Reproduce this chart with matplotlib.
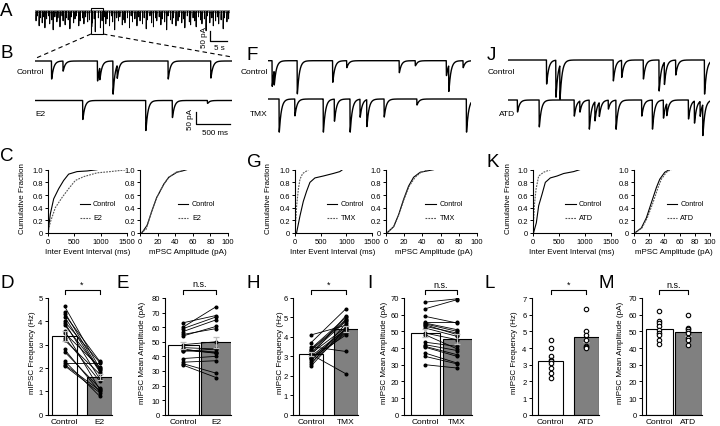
import numpy as np
import matplotlib
matplotlib.use('Agg')
import matplotlib.pyplot as plt

plt.rcParams['font.family'] = ['Liberation Sans', 'DejaVu Sans']

# ---------------- data ----------------
# Panel A: long recording, event times (s) and amplitudes (pA)
A_times = [0.3, 0.7, 1.2, 1.5, 2.1, 2.6, 2.9, 3.4, 4.0, 4.3, 4.9, 5.3, 5.8, 6.4, 6.7, 7.3,
           7.9, 8.2, 8.8, 9.1, 9.7, 10.2, 10.6, 11.3, 11.7, 12.1, 12.8, 13.2, 13.9, 14.3,
           14.8, 15.4, 15.9, 16.6, 16.8, 17.3, 17.6, 18.5, 19.1, 19.6, 20.2, 20.7, 21.1,
           21.8, 22.4, 22.7, 23.3, 23.9, 24.4, 24.8, 25.5, 26.0, 26.3, 27.0, 27.6, 28.1,
           28.5, 29.2, 29.8, 30.3, 30.7, 31.4, 31.9, 32.5, 32.9, 33.6, 34.1, 34.6, 35.2,
           35.6, 36.3, 36.8, 37.2, 37.9, 38.5, 38.9, 39.6, 40.1, 40.5, 41.2, 41.8, 42.2,
           42.9, 43.4, 43.8, 44.5, 45.1, 45.5, 46.2, 46.7, 47.1, 47.8, 48.4, 48.8, 49.5,
           50.0, 50.4, 51.1, 51.7, 52.1, 52.8, 53.3, 53.7, 54.4, 55.0, 55.4, 56.1, 56.6]
A_amps = [45, 20, 70, 30, 55, 25, 80, 35, 20, 60, 40, 90, 25, 50, 30, 75, 20, 45, 65, 30,
          40, 85, 25, 55, 35, 20, 70, 45, 30, 60, 25, 50, 40, 75, 55, 35, 100, 30, 80, 45,
          25, 60, 35, 70, 20, 50, 90, 30, 45, 25, 65, 40, 55, 30, 80, 20, 50, 35, 70, 25,
          45, 60, 30, 85, 40, 20, 55, 75, 30, 45, 25, 65, 35, 50, 90, 20, 40, 60, 30, 70,
          45, 25, 55, 35, 80, 20, 50, 65, 30, 45, 75, 25, 40, 60, 35, 95, 20, 55, 30, 70,
          45, 25, 60, 40, 85, 30, 50, 35]

# Example traces: event times (ms) and amplitudes (pA)
B_ctrl_t = [242, 411, 918, 952, 1146, 1208, 1958, 2586]
B_ctrl_a = [75, 42, 83, 50, 138, 54, 75, 71]
B_e2_t = [701, 1629, 2020, 2537]
B_e2_a = [79, 125, 71, 12]
F_ctrl_t = [59, 89, 428, 949, 1156, 1928, 2164, 2621, 2656, 2867]
F_ctrl_a = [107, 60, 138, 90, 29, 50, 21, 62, 108, 29]
F_tmx_t = [162, 393, 811, 974, 1205, 1352, 1451, 1706, 2188, 2916]
F_tmx_a = [138, 70, 138, 92, 138, 75, 112, 75, 25, 138]
J_ctrl_t = [565, 702, 761, 1546, 1669, 1988, 2219, 2297, 2464, 2887]
J_ctrl_a = [100, 154, 142, 87, 71, 79, 129, 92, 62, 142]
J_atd_t = [137, 457, 972, 1055, 1193, 1276, 1340, 1473, 1586, 1964, 2121, 2283, 2332,
           2651, 2739, 2823, 2862]
J_atd_a = [50, 112, 67, 46, 121, 79, 58, 37, 121, 67, 121, 75, 50, 79, 92, 62, 129]

# Cumulative distributions (x value, cumulative fraction)
C_iei_ctrl_x = [0, 44, 108, 203, 297, 392, 551, 741, 930]
C_iei_ctrl_f = [0, 0.30, 0.54, 0.70, 0.83, 0.93, 0.97, 0.98, 1.0]
C_iei_e2_x = [0, 44, 139, 266, 392, 519, 677, 930, 1184, 1500]
C_iei_e2_f = [0, 0.17, 0.40, 0.56, 0.70, 0.83, 0.89, 0.95, 0.97, 1.0]
C_amp_ctrl_x = [2, 8, 13.6, 19, 27, 32.6, 42, 48, 53]
C_amp_ctrl_f = [0, 0.12, 0.35, 0.56, 0.77, 0.88, 0.96, 0.98, 1.0]
C_amp_e2_x = [1, 7, 13, 19, 27, 33, 41, 47, 50]
C_amp_e2_f = [0, 0.06, 0.33, 0.56, 0.77, 0.88, 0.96, 0.98, 1.0]

G_iei_ctrl_x = [30, 97, 162, 226, 291, 388, 550, 744, 873, 925]
G_iei_ctrl_f = [0, 0.27, 0.50, 0.66, 0.80, 0.87, 0.90, 0.94, 0.97, 1.0]
G_iei_tmx_x = [0, 32, 65, 97, 149, 226, 259]
G_iei_tmx_f = [0, 0.43, 0.69, 0.85, 0.94, 0.98, 1.0]
G_amp_ctrl_x = [1, 8.4, 13.9, 19.3, 24.8, 30.3, 37.6, 44.9, 52.2]
G_amp_ctrl_f = [0, 0.10, 0.29, 0.53, 0.74, 0.88, 0.96, 0.98, 1.0]
G_amp_tmx_x = [1, 8.4, 14.2, 19.8, 25.5, 32.0, 38.5, 43.0, 46.7]
G_amp_tmx_f = [0, 0.10, 0.29, 0.53, 0.74, 0.88, 0.96, 0.98, 1.0]

K_iei_ctrl_x = [10, 64, 109, 173, 237, 333, 462, 590, 782, 897]
K_iei_ctrl_f = [0, 0.16, 0.43, 0.61, 0.80, 0.87, 0.90, 0.94, 0.97, 1.0]
K_iei_atd_x = [0, 26, 58, 109, 205, 333]
K_iei_atd_f = [0, 0.43, 0.69, 0.90, 0.96, 1.0]
K_amp_ctrl_x = [1, 9.7, 16.3, 22.9, 29.5, 33.9, 40.5, 45, 47]
K_amp_ctrl_f = [0, 0.08, 0.24, 0.48, 0.72, 0.85, 0.96, 0.99, 1.0]
K_amp_atd_x = [1, 10.5, 17.5, 25.0, 31.7, 36.0, 42.7, 47, 49]
K_amp_atd_f = [0, 0.08, 0.24, 0.48, 0.72, 0.85, 0.96, 0.99, 1.0]

# Paired / scatter summary data
D_ctrl = [4.65, 4.4, 4.3, 4.2, 4.0, 3.95, 3.85, 3.6, 3.5, 3.3, 3.2, 2.8, 2.7, 2.3, 2.2, 2.15, 2.1]
D_e2 = [2.0, 1.9, 2.3, 1.85, 2.25, 1.55, 1.95, 1.1, 2.05, 1.45, 1.75, 1.0, 1.15, 0.8, 2.2, 1.05, 0.95]
E_ctrl = [63, 60, 59, 57, 55, 54, 48, 46, 45, 44.5, 44, 43.5, 38.5, 36, 35, 34]
E_e2 = [68, 74, 67, 65, 59, 60.5, 50, 45, 42, 43, 42.5, 45, 40, 37, 28.5, 25.5]
H_ctrl = [4.1, 3.7, 3.5, 3.4, 3.35, 3.3, 3.2, 3.15, 3.1, 3.05, 3.0, 2.9, 2.8, 2.7, 2.6, 2.9, 2.5, 2.9]
H_tmx = [4.6, 5.45, 3.25, 5.0, 4.9, 4.85, 4.8, 4.5, 2.1, 5.1, 4.4, 4.3, 4.25, 4.2, 4.7, 4.1, 4.45, 4.4]
I_ctrl = [67.5, 63.5, 59, 55.5, 55, 54.5, 54, 53, 52, 49, 48, 43.5, 42, 41, 40.5, 37, 35, 30]
I_tmx = [69.5, 69, 55, 55.5, 51, 50, 48, 49, 47, 45, 39.5, 41, 38.5, 36, 35, 31, 30.5, 28]
L_ctrl = [4.5, 4.0, 3.5, 3.3, 3.2, 3.1, 2.8, 2.5, 2.2]
L_atd = [6.35, 5.0, 4.8, 4.5, 4.1, 4.05, 4.0]
M_ctrl = [62, 56, 55, 53, 51, 49, 48, 45, 42.5]
M_atd = [60, 52, 51.5, 50, 49, 46, 45, 42]

# ---------------- figure ----------------
W, H = 720, 427
fig = plt.figure(figsize=(7.2, 4.27), dpi=100)


def add_ax(x0, y0, x1, y1):
    return fig.add_axes([x0 / W, 1 - y1 / H, (x1 - x0) / W, (y1 - y0) / H])


ov = add_ax(0, 0, W, H)
ov.set_xlim(0, W)
ov.set_ylim(H, 0)
ov.axis('off')

LFS = 13.5
for lab, x, y in [('A', 0, 11), ('B', 0, 54), ('F', 247, 56), ('J', 487, 56),
                  ('C', 0, 157), ('G', 247, 163), ('K', 487, 163),
                  ('D', 0, 284), ('E', 117, 284), ('H', 247, 284), ('I', 367, 284),
                  ('L', 484, 284), ('M', 599, 284)]:
    ov.text(x, y, lab, fontsize=LFS, ha='left', va='center')


def psc(times, amps, dur, dt, taur, taud):
    t = np.arange(0, dur, dt)
    tp = taur * taud / (taud - taur) * np.log(taud / taur)
    pk = np.exp(-tp / taud) - np.exp(-tp / taur)
    y = np.zeros_like(t)
    for ti, a in zip(times, amps):
        s = t - ti
        m = s > 0
        y[m] -= a * (np.exp(-s[m] / taud) - np.exp(-s[m] / taur)) / pk
    return t, y


def trace_ax(x0, x1, ybase, dur, pa_px, top=6, bot=40):
    ax = add_ax(x0, ybase - top, x1, ybase + bot)
    ax.set_xlim(0, dur)
    ax.set_ylim(-bot * pa_px, top * pa_px)
    ax.axis('off')
    return ax


# Panel A
axA = trace_ax(35, 230, 13, 57000, 5.0, top=5, bot=30)
t, y = psc([v * 1000 for v in A_times], A_amps, 57000, 2.0, 1.0, 25.0)
axA.plot(t, y, color='black', lw=0.6)
axA.plot(t, y + 6, color='black', lw=0.4)
axA.add_patch(plt.Rectangle((16400, -110), 3500, 130, fill=False, lw=0.8, ec='black', clip_on=False))
axA.plot([51200, 51200, 56200], [-95, -145, -145], color='black', lw=0.9, clip_on=False)
ov.text(204, 37, '50 pA', rotation=90, fontsize=5.8, ha='center', va='center')
ov.text(219, 48, '5 s', fontsize=5.8, ha='center', va='center')
ov.plot([91, 34], [35, 60], color='black', lw=0.8, dashes=(4, 3))
ov.plot([103, 232], [35, 58], color='black', lw=0.8, dashes=(4, 3))

PA = 50.0 / 12.0
TFS = 6
traces = [
    (35, 232, 62, 2900, B_ctrl_t, B_ctrl_a),
    (35, 232, 101.5, 2900, B_e2_t, B_e2_a),
    (268, 471, 61.7, 2985, F_ctrl_t, F_ctrl_a),
    (268, 471, 100, 2985, F_tmx_t, F_tmx_a),
    (508, 710, 61, 2970, J_ctrl_t, J_ctrl_a),
    (508, 710, 101, 2970, J_atd_t, J_atd_a),
]
tr_axes = []
for x0, x1, yb, dur, tt, aa in traces:
    ax = trace_ax(x0, x1, yb, dur, PA)
    t, y = psc(tt, aa, dur, 0.5, 1.0, 30.0)
    ax.plot(t, y, color='black', lw=1.0)
    tr_axes.append(ax)

# scale bar B
axE2 = tr_axes[1]
axE2.plot([2370, 2370, 2870], [-48, -98, -98], color='black', lw=0.9, clip_on=False)
ov.text(191, 120, '50 pA', rotation=90, fontsize=5.8, ha='center', va='center')
ov.text(215, 134, '500 ms', fontsize=5.8, ha='center', va='center')

for txt, x, y in [('Control', 17, 72), ('E2', 35, 115), ('Control', 241, 72), ('TMX', 250, 115),
                  ('Control', 488, 72), ('ATD', 499, 114)]:
    ov.text(x, y, txt, fontsize=TFS, ha='left', va='center')

# ---------------- CDF panels ----------------
AFS = 5.8
TKS = 5.5


def style(ax):
    for s in ['top', 'right']:
        ax.spines[s].set_visible(False)
    for s in ['left', 'bottom']:
        ax.spines[s].set_linewidth(0.8)
    ax.tick_params(direction='out', length=2.5, width=0.7, pad=1.2, labelsize=TKS)


def cdf_ax(x0, x1, xmax, xticks, cx, cf, tx, tf, lab2, lx0, lx1, ltx):
    ax = add_ax(x0, 170.7, x1, 234)
    ax.plot(cx, cf, color='black', lw=0.8)
    ax.plot(tx, tf, color='#555555', lw=0.8, dashes=(1.6, 1.0))
    ax.set_xlim(0, xmax)
    ax.set_ylim(0, 1)
    ax.set_xticks(xticks)
    ax.set_yticks([0, 0.2, 0.4, 0.6, 0.8, 1.0])
    ax.set_yticklabels(['0', '0.2', '0.4', '0.6', '0.8', '1.0'])
    style(ax)
    ax.plot([lx0, lx1], [0.46, 0.46], color='black', lw=0.8, transform=ax.transAxes)
    ax.plot([lx0, lx1], [0.24, 0.24], color='#555555', lw=0.8, dashes=(1.6, 1.0), transform=ax.transAxes)
    ax.text(ltx, 0.46, 'Control', fontsize=5.2, va='center', ha='left', transform=ax.transAxes)
    ax.text(ltx, 0.24, lab2, fontsize=5.2, va='center', ha='left', transform=ax.transAxes)
    return ax


iei_ticks = [0, 500, 1000, 1500]
amp_ticks = [0, 20, 40, 60, 80, 100]
cdf_ax(48, 127, 1500, iei_ticks, C_iei_ctrl_x, C_iei_ctrl_f, C_iei_e2_x, C_iei_e2_f, 'E2', 0.41, 0.53, 0.57)
cdf_ax(140, 228, 100, amp_ticks, C_amp_ctrl_x, C_amp_ctrl_f, C_amp_e2_x, C_amp_e2_f, 'E2', 0.43, 0.55, 0.59)
cdf_ax(295, 372, 1500, iei_ticks, G_iei_ctrl_x, G_iei_ctrl_f, G_iei_tmx_x, G_iei_tmx_f, 'TMX', 0.41, 0.55, 0.59)
cdf_ax(386, 477, 100, amp_ticks, G_amp_ctrl_x, G_amp_ctrl_f, G_amp_tmx_x, G_amp_tmx_f, 'TMX', 0.43, 0.55, 0.59)
cdf_ax(533, 611, 1500, iei_ticks, K_iei_ctrl_x, K_iei_ctrl_f, K_iei_atd_x, K_iei_atd_f, 'ATD', 0.41, 0.55, 0.59)
cdf_ax(634, 710, 100, amp_ticks, K_amp_ctrl_x, K_amp_ctrl_f, K_amp_atd_x, K_amp_atd_f, 'ATD', 0.43, 0.57, 0.61)

for x in [23, 269, 508]:
    ov.text(x, 199, 'Cumulative Fraction', rotation=90, fontsize=AFS, ha='center', va='center')
for x, txt in [(88, 'Inter Event Interval (ms)'), (188, 'mPSC Amplitude (pA)'),
               (333, 'Inter Event Interval (ms)'), (434, 'mPSC Amplitude (pA)'),
               (572, 'Inter Event Interval (ms)'), (674, 'mPSC Amplitude (pA)')]:
    ov.text(x, 253, txt, fontsize=AFS, ha='center', va='center')


# ---------------- bar panels ----------------
def bar_panel(x0, c0, c1, w, ymax, ystep, ctrl, trt, lab2, sig, paired, ylabel, ylx):
    u = c1 - c0
    right = c1 + w / 2
    ax = add_ax(x0, 299, right, 415.7)
    xl = ((x0 - c0) / u, (right - c0) / u)
    bw = w / u
    means = [np.mean(ctrl), np.mean(trt)]
    sems = [np.std(ctrl, ddof=1) / np.sqrt(len(ctrl)), np.std(trt, ddof=1) / np.sqrt(len(trt))]
    ax.bar([0, 1], means, width=bw, color=['white', '#808080'], edgecolor='black', lw=0.8, zorder=1)
    if paired:
        for a, b in zip(ctrl, trt):
            ax.plot([0, 1], [a, b], color='black', lw=0.6, marker='o', ms=1.9, zorder=3)
        ax.errorbar([0, 1], means, yerr=sems, fmt='none', ecolor='#bdbdbd', elinewidth=0.9,
                    capsize=2, capthick=0.9, zorder=4)
    else:
        ax.errorbar([0, 1], means, yerr=sems, fmt='none', ecolor='#d0d0d0', elinewidth=0.9,
                    capsize=2.5, capthick=0.9, zorder=2)
        ax.plot([0] * len(ctrl), ctrl, ls='none', marker='o', ms=3.2, mfc='white', mec='black',
                mew=0.8, zorder=3)
        ax.plot([1] * len(trt), trt, ls='none', marker='o', ms=3.2, mfc='white', mec='black',
                mew=0.8, zorder=3)
    ax.set_xlim(*xl)
    ax.set_ylim(0, ymax)
    ax.set_yticks(np.arange(0, ymax + ystep / 2, ystep))
    ax.set_xticks([])
    style(ax)
    dpp = ymax / 116.7
    yb = ymax + 8 * dpp
    ax.plot([0, 0, 1, 1], [yb - 3.5 * dpp, yb, yb, yb - 3.5 * dpp], color='black', lw=0.8, clip_on=False)
    ax.text(0.5, yb + 1.5 * dpp, sig, fontsize=6.5, ha='center', va='bottom', clip_on=False)
    ov.text(c0, 423, 'Control', fontsize=6, ha='center', va='center')
    ov.text(c1, 423, lab2, fontsize=6, ha='center', va='center')
    ov.text(ylx, 353, ylabel, rotation=90, fontsize=AFS, ha='center', va='center')
    return ax


bar_panel(47.7, 64.5, 99.5, 25, 5, 1, D_ctrl, D_e2, 'E2', '*', True, 'mIPSC Frequency (Hz)', 33)
bar_panel(165, 183, 216, 31, 80, 10, E_ctrl, E_e2, 'E2', 'n.s.', True, 'mIPSC Mean Amplitude (pA)', 143)
bar_panel(293, 311, 346, 24, 6, 1, H_ctrl, H_tmx, 'TMX', '*', True, 'mIPSC Frequency (Hz)', 281)
bar_panel(404, 425, 457, 29, 70, 10, I_ctrl, I_tmx, 'TMX', 'n.s.', True, 'mIPSC Mean Amplitude (pA)', 385)
bar_panel(531.7, 550.5, 586, 25, 7, 1, L_ctrl, L_atd, 'ATD', '*', False, 'mIPSC Frequency (Hz)', 515)
bar_panel(642, 659, 688, 27, 70, 10, M_ctrl, M_atd, 'ATD', 'n.s.', False, 'mIPSC Mean Amplitude (pA)', 621)

fig.savefig('out.png', dpi=100)
